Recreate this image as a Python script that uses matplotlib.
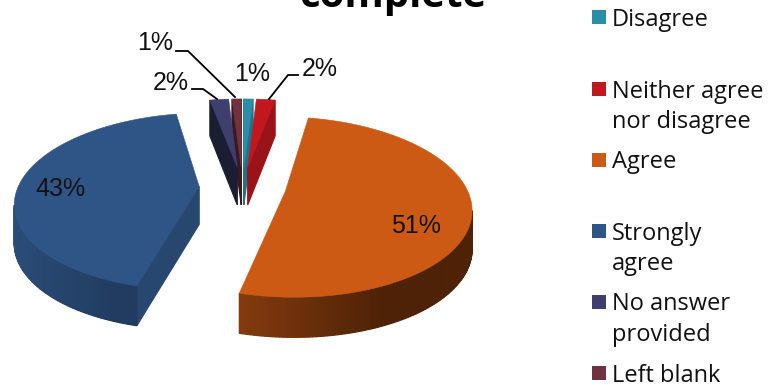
import numpy as np
import matplotlib
matplotlib.use("Agg")
import matplotlib.pyplot as plt
from matplotlib.colors import to_rgb
from matplotlib.patches import Polygon, Rectangle

# Survey responses, clockwise from twelve o'clock
categories = ["Disagree", "Neither agree\nnor disagree", "Agree",
              "Strongly\nagree", "No answer\nprovided", "Left blank"]
shares = [1, 2, 51, 43, 2, 1]
top_colors = ["#2A8EA9", "#C1181F", "#CD5A14", "#2F5587", "#3E3F6F", "#71323F"]
cut_colors = ["#1F7288", "#9A1319", "#7A360C", "#27476F", "#1B1E33", "#3A1820"]
wall_left = ["#1F7288", "#9A1319", "#843B0E", "#2A4C78", "#1B1E33", "#3A1820"]
wall_right = ["#1F7288", "#9A1319", "#4E2206", "#213C60", "#1B1E33", "#3A1820"]

W, H = 773, 385
plt.rcParams["font.family"] = ["Open Sans", "DejaVu Sans"]
fig = plt.figure(figsize=(W / 100, H / 100), dpi=100)
ax = fig.add_axes([0, 0, 1, 1])
ax.set_xlim(0, W)
ax.set_ylim(H, 0)
ax.axis("off")

# Projection of the tilted pie
CX, CY, RX, RY = 242.5, 187.0, 181.0, 86.0
PERSP = 0.17
EXPLODE, DEPTH = 0.24, 38.0


def project(u, v, drop=False):
    w = 1 + PERSP * v
    x = CX + RX * u / w
    y = CY - RY * v / w
    if drop:
        y = y + DEPTH / (1 + 0.05 * v)
    return np.array([x, y])


def shade(a, b, t):
    a, b = np.array(to_rgb(a)), np.array(to_rgb(b))
    return tuple(a + (b - a) * t)


def wall(p, q, color, z):
    """Extruded quad under the edge p-q, drawn only when it faces the viewer."""
    arr = np.array([project(*p), project(*q), project(*q, drop=True), project(*p, drop=True)])
    area = 0.5 * np.sum(arr[:, 0] * np.roll(arr[:, 1], -1) - np.roll(arr[:, 0], -1) * arr[:, 1])
    if area < 0:
        ax.add_patch(Polygon(arr, closed=True, fc=color, ec=color, lw=0.9, zorder=z))


fractions = np.array(shares) / sum(shares)
bounds = np.concatenate([[0], np.cumsum(fractions)]) * 2 * np.pi
order = [0, 5, 1, 4, 3, 2]
for rank, i in enumerate(order):
    a0, a1 = bounds[i], bounds[i + 1]
    mid = (a0 + a1) / 2
    ou, ov = EXPLODE * np.sin(mid), EXPLODE * np.cos(mid)
    angles = np.linspace(a0, a1, max(4, int((a1 - a0) * 60)))
    rim = [(ou + np.sin(t), ov + np.cos(t)) for t in angles]
    apex = (ou, ov)
    z = 2 + rank

    # Cut faces, then the outer wall with its left-to-right shading
    wall(apex, rim[0], cut_colors[i], z)
    wall(rim[-1], apex, cut_colors[i], z)
    xs = [project(*p)[0] for p in rim]
    lo, hi = min(xs), max(xs)
    for p, q in zip(rim[:-1], rim[1:]):
        t = min(1.0, (project(*p)[0] - lo) / (hi - lo) / 0.62)
        wall(p, q, shade(wall_left[i], wall_right[i], t), z)

    outline = [project(*apex)] + [project(*p) for p in rim]
    ax.add_patch(Polygon(outline, closed=True, fc=top_colors[i], ec=top_colors[i],
                         lw=0.4, zorder=z + 0.5))

# Value labels; the small slices get leader lines
label_font = dict(fontsize=18, family="Liberation Sans", color="#111111",
                  va="center", ha="center", zorder=20)
label_pos = [(252, 74), (320, 69), (416, 226), (60, 189), (171, 83), (155, 43)]
for value, (x, y) in zip(shares, label_pos):
    ax.text(x, y, f"{value}%", **label_font)

leaders = [[(176, 51), (188, 51), (235, 97)],
           [(192, 89), (203, 89), (217, 99)],
           [(298, 75), (288, 75), (269, 99)]]
for path in leaders:
    px, py = zip(*path)
    ax.plot(px, py, color="black", lw=1.3, zorder=19, solid_joinstyle="miter")

ax.text(393, 7, "complete", fontsize=29, fontweight="bold", color="black",
        ha="center", va="baseline", zorder=20)

# Legend column
box_tops = [10, 82, 153, 224, 295, 366]
for name, color, top in zip(categories, top_colors, box_tops):
    ax.add_patch(Rectangle((592, top), 14, 14, fc=color, ec="none", zorder=20))
    for n, line in enumerate(name.split("\n")):
        ax.text(612, top + 15.5 + n * 30.5, line, fontsize=17, color="#111111",
                ha="left", va="baseline", zorder=20)

fig.savefig("out.png", dpi=100)
